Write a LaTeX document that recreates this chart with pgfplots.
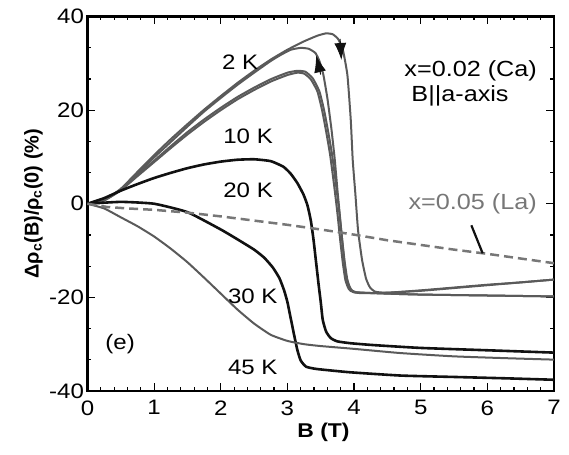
\documentclass[border=0pt]{standalone}
\usepackage{fontspec}
\setmainfont{Liberation Sans}[FakeStretch=1.15]
\newfontfamily\ylabfont{Liberation Sans}
\usepackage{pgfplots}
\pgfplotsset{compat=1.18}
\usetikzlibrary{arrows.meta}
\definecolor{cgray}{HTML}{5A5A5A}
\definecolor{cblack}{HTML}{111111}
\definecolor{cdash}{HTML}{777777}
\begin{document}
\begin{tikzpicture}
\begin{axis}[
  scale only axis, width=466.5bp, height=374.5bp,
  xmin=0, xmax=7, ymin=-40, ymax=40,
  xtick={0,1,...,7}, ytick={-40,-20,0,20,40},
  minor x tick num=4, minor y tick num=2,
  tick align=inside, major tick length=8bp, minor tick length=4bp,
  every tick/.style={black, line width=1.2bp},
  axis line style={line width=2.2bp},
  tick label style={font=\fontsize{21}{24}\selectfont},
  xticklabel style={yshift=-6bp},
  /pgf/number format/assume math mode=true,
  xlabel={B (T)},
  xlabel style={font=\fontsize{20}{24}\bfseries\selectfont, at={(axis description cs:0.506,-0.111)}, anchor=center},
  ylabel={\ylabfont\bfseries Δρ\textsubscript{c}(B)/ρ\textsubscript{c}(0) (\%)},
  ylabel style={font=\fontsize{20}{24}\selectfont, at={(axis description cs:-0.116,0.5)}, anchor=center},
  clip=true,
]
% 2 K up sweep
\addplot[cgray, line width=2bp, smooth, tension=0.3] coordinates {
(0,0) (0.25,0.8) (0.5,3.2) (0.75,6.8) (1,10.4) (1.25,13.8) (1.5,17.0) (1.75,20.1)
(2,23.0) (2.25,25.8) (2.5,28.4) (2.75,30.8) (3,32.9) (3.25,34.7) (3.45,35.9) (3.58,36.4)
(3.68,36.2) (3.76,35.2) (3.83,33.0) (3.9,27.5) (3.95,18) (3.98,9.3) (4.02,2) (4.06,-5.7)
(4.12,-12) (4.18,-16) (4.24,-17.9) (4.32,-18.8) (4.5,-19.0) (5,-18.5) (5.5,-17.9) (6,-17.3)
(6.5,-16.8) (7,-16.2)};
% 2 K down sweep
\addplot[cgray, line width=2bp, smooth, tension=0.3] coordinates {
(7,-16.2) (6,-17.4) (5,-18.6) (4.5,-19.0) (4.1,-19.1) (3.98,-18.8) (3.92,-17.5) (3.87,-14.5)
(3.83,-9) (3.79,-3) (3.75,3) (3.71,9.5) (3.66,16) (3.6,22.5) (3.54,27.5) (3.48,30.5)
(3.42,32.2) (3.32,33.1) (3.2,33.3) (3.05,32.9) (2.9,31.8) (2.75,30.5) (2.5,28.0) (2.25,25.4)
(2,22.6) (1.75,19.7) (1.5,16.5) (1.25,13.2) (1,9.9) (0.75,6.4) (0.5,2.9) (0.25,0.7) (0,0)};
% 10 K up
\addplot[cgray, line width=2bp, smooth, tension=0.3] coordinates {
(0,0) (0.25,0.8) (0.5,2.9) (0.75,5.9) (1,8.9) (1.25,11.9) (1.5,14.8) (1.75,17.5)
(2,20.0) (2.25,22.3) (2.5,24.3) (2.75,26.1) (3,27.5) (3.15,28.0) (3.25,27.8) (3.35,26.6)
(3.45,24) (3.52,20) (3.58,15.5) (3.64,10.5) (3.7,4) (3.75,-2) (3.79,-7.5) (3.83,-12.5)
(3.87,-16.3) (3.92,-18.2) (4.0,-18.9) (4.5,-19.2) (5,-19.4) (6,-19.6) (7,-19.8)};
% 10 K down
\addplot[cgray, line width=2bp, smooth, tension=0.3] coordinates {
(7,-19.8) (6,-19.6) (5,-19.4) (4.5,-19.2) (4.03,-18.9) (3.95,-18.2) (3.9,-16.3) (3.86,-12.5)
(3.82,-7.5) (3.78,-2) (3.73,4) (3.67,10.5) (3.61,15.5) (3.55,20) (3.48,24) (3.38,26.8)
(3.27,28.2) (3.15,28.4) (3,28.0) (2.75,26.6) (2.5,24.8) (2.25,22.8) (2,20.5) (1.75,18.0)
(1.5,15.3) (1.25,12.3) (1,9.2) (0.75,6.1) (0.5,3.0) (0.25,0.8) (0,0)};
% 20 K
\addplot[cblack, line width=2.6bp, smooth, tension=0.3] coordinates {
(0,0) (0.25,1.2) (0.5,2.8) (0.75,4.2) (1,5.5) (1.25,6.6) (1.5,7.6) (1.75,8.4)
(2,9.0) (2.25,9.4) (2.5,9.5) (2.75,9.1) (2.94,7.9) (3.05,6.4) (3.15,4.4) (3.24,2.0)
(3.3,-0.3) (3.35,-3.5) (3.39,-7.5) (3.43,-12.5) (3.47,-17.5) (3.5,-21) (3.53,-24.8)
(3.58,-27.3) (3.65,-28.7) (3.75,-29.4) (3.95,-29.8) (4.3,-30.2) (5,-30.8) (6,-31.3) (7,-31.8)};
% 30 K
\addplot[cblack, line width=2.6bp, smooth, tension=0.3] coordinates {
(0,0) (0.5,0.4) (1,0) (1.5,-1.8) (2,-5.5) (2.25,-7.6) (2.5,-9.8) (2.65,-11.5)
(2.78,-13.6) (2.88,-15.9) (2.95,-18.5) (3,-21) (3.05,-24.5) (3.1,-28) (3.15,-31.3)
(3.2,-33.5) (3.28,-34.8) (3.44,-35.3) (3.94,-36) (4.7,-36.7) (5.5,-37.0) (6.3,-37.3) (7,-37.6)};
% 45 K
\addplot[cgray, line width=2bp, smooth, tension=0.3] coordinates {
(0,0) (0.25,-1.0) (0.5,-2.9) (0.75,-4.8) (1,-7.0) (1.25,-9.6) (1.5,-12.5) (1.75,-15.8)
(2,-19.2) (2.25,-22.6) (2.5,-25.6) (2.75,-28.0) (3,-29.3) (3.25,-30.0) (3.5,-30.4)
(4,-31.0) (4.7,-31.9) (5.5,-32.6) (6.3,-33.0) (7,-33.3)};
% La dashed
\addplot[cdash, line width=2.5bp, dash pattern=on 9bp off 5bp] coordinates {
(0,0) (0.3,-0.7) (0.6,-1.0) (1,-1.3) (1.5,-1.9) (2,-2.7) (2.5,-3.6) (3,-4.5)
(3.5,-5.5) (4,-6.6) (4.5,-7.8) (5,-8.8) (5.5,-9.8) (6,-10.7) (6.5,-11.7) (7,-12.7)};
% pointer line
\addplot[cblack, line width=2.2bp] coordinates {(5.76,-4.6) (5.93,-10.6)};
% arrows
\addplot[cblack, line width=1bp, -{Latex[length=17bp,width=12bp]}] coordinates {(3.79,35.2) (3.81,30.7)};
\addplot[cblack, line width=1bp, -{Latex[length=17bp,width=12bp]}] coordinates {(3.5,27.6) (3.43,31.7)};
% labels
\node[font=\fontsize{21}{24}\selectfont] at (axis cs:2.29,30.3) {2 K};
\node[font=\fontsize{21}{24}\selectfont] at (axis cs:2.41,14.4) {10 K};
\node[font=\fontsize{21}{24}\selectfont] at (axis cs:2.41,2.9) {20 K};
\node[font=\fontsize{21}{24}\selectfont] at (axis cs:2.48,-19.8) {30 K};
\node[font=\fontsize{21}{24}\selectfont] at (axis cs:2.48,-35) {45 K};
\node[font=\fontsize{21}{24}\selectfont] at (axis cs:0.49,-29.9) {(e)};
\node[font=\fontsize{22}{26}\selectfont] at (axis cs:5.75,28.3) {x=0.02 (Ca)};
\node[font=\fontsize{22}{26}\selectfont] at (axis cs:5.59,23.0) {B||a-axis};
\node[font=\fontsize{22}{26}\selectfont, text=cdash] at (axis cs:5.78,-0.1) {x=0.05 (La)};
\end{axis}
\pgfresetboundingbox
\path[use as bounding box] (-87.5bp,-64bp) rectangle (481.5bp,391bp);
\end{tikzpicture}
\end{document}
